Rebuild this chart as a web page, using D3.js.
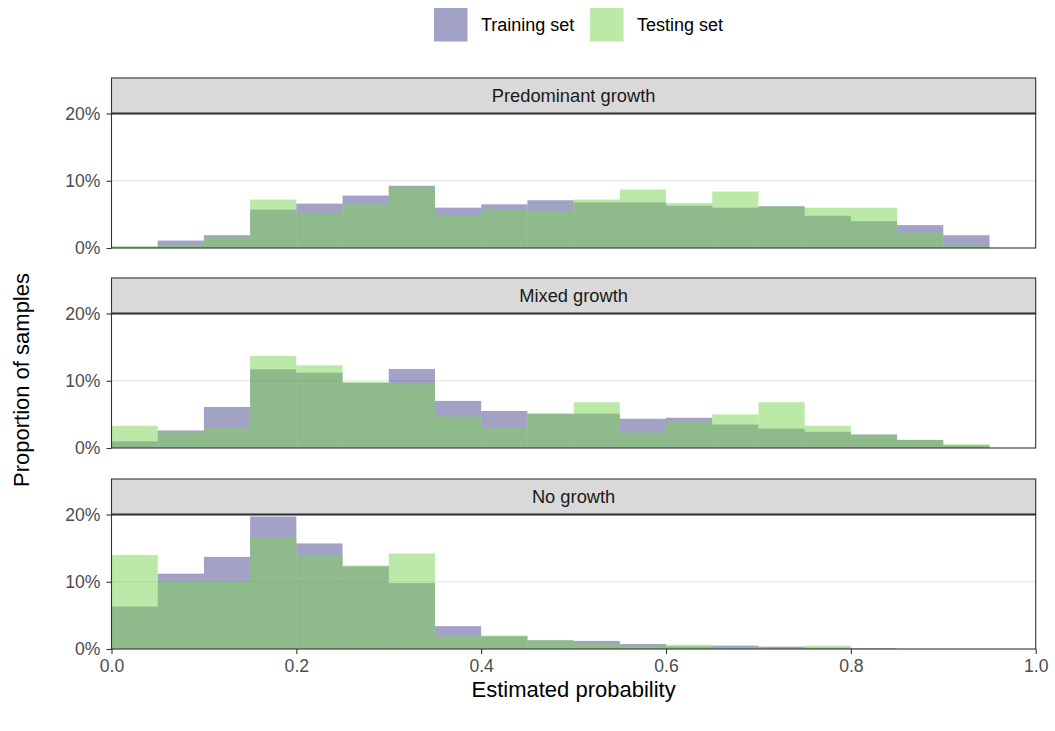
<!DOCTYPE html>
<html>
<head>
<meta charset="utf-8">
<script src="https://cdn.jsdelivr.net/npm/d3@7"></script>
<style>
  body { margin: 0; background: #fff; }
  svg { font-family: "Liberation Sans", Arial, sans-serif; }
</style>
</head>
<body>
<svg id="chart" width="1055" height="731"></svg>
<script>
// bins of width 0.05 from 0 to 1, values are % of samples
const binStarts = d3.range(0, 20).map(i => i * 0.05)
const facets = ["Predominant growth", "Mixed growth", "No growth"]
const seriesNames = ["Training set", "Testing set"]

const trainPred = [0.1, 1.1, 1.9, 5.7, 6.6, 7.8, 9.25, 6.0, 6.5, 7.1, 6.8, 6.8, 6.3, 6.0, 6.2, 4.8, 4.0, 3.4, 1.9, 0]
const testPred  = [0.3, 0.5, 1.6, 7.2, 5.1, 6.5, 9.1, 4.9, 5.7, 5.4, 7.2, 8.7, 6.7, 8.4, 6.2, 6.0, 6.0, 2.3, 0.4, 0]

const trainMixed = [1.0, 2.6, 6.1, 11.7, 11.2, 9.7, 11.75, 7.0, 5.5, 5.1, 5.1, 4.35, 4.5, 3.5, 2.9, 2.4, 2.0, 1.2, 0.4, 0]
const testMixed  = [3.3, 2.3, 2.95, 13.7, 12.3, 9.8, 9.5, 4.7, 2.95, 5.1, 6.8, 2.3, 4.0, 5.0, 6.8, 3.3, 2.0, 1.2, 0.55, 0]

const trainNo = [6.3, 11.2, 13.7, 19.7, 15.7, 12.3, 9.8, 3.4, 1.9, 1.3, 1.2, 0.75, 0.4, 0.5, 0.35, 0.2, 0.1, 0, 0, 0]
const testNo  = [14.0, 10.0, 10.1, 16.5, 13.9, 12.4, 14.2, 1.9, 2.0, 1.3, 0.8, 0.5, 0.65, 0.3, 0.15, 0.5, 0, 0, 0, 0]

const yTicks = [0, 10, 20]
const xTicks = [0, 0.2, 0.4, 0.6, 0.8, 1.0]

const facetData = [
  [trainPred, testPred],
  [trainMixed, testMixed],
  [trainNo, testNo]
]

const colors = ["#45458d", "#7bd351"]
const alpha = 0.5

const svg = d3.select("#chart")

const left = 111.5, right = 1035.7
const panelTops = [113.5, 313.5, 514.5]
const panelH = 134.5
const stripH = 35.5

const x = d3.scaleLinear().domain([0, 1]).range([left, right])

facets.forEach((name, fi) => {
  const top = panelTops[fi]
  const y = d3.scaleLinear().domain([0, 20]).range([top + panelH, top])
  const g = svg.append("g")

  // grid line at 10%
  g.append("line")
    .attr("x1", left).attr("x2", right)
    .attr("y1", y(10)).attr("y2", y(10))
    .attr("stroke", "#ebebeb").attr("stroke-width", 1.4)

  // bars: training first, testing on top
  facetData[fi].forEach((vals, si) => {
    g.append("g")
      .selectAll("rect")
      .data(vals.map((v, i) => ({ x0: binStarts[i], v })))
      .join("rect")
      .attr("x", d => x(d.x0))
      .attr("width", d => x(d.x0 + 0.05) - x(d.x0))
      .attr("y", d => y(d.v))
      .attr("height", d => y(0) - y(d.v))
      .attr("fill", colors[si])
      .attr("fill-opacity", alpha)
  })

  // panel border
  g.append("rect")
    .attr("x", left).attr("y", top)
    .attr("width", right - left).attr("height", panelH)
    .attr("fill", "none").attr("stroke", "#333").attr("stroke-width", 1.1)

  // strip
  g.append("rect")
    .attr("x", left).attr("y", top - stripH)
    .attr("width", right - left).attr("height", stripH)
    .attr("fill", "#d9d9d9").attr("stroke", "#333").attr("stroke-width", 1.1)
  g.append("line")
    .attr("x1", left).attr("x2", right)
    .attr("y1", top).attr("y2", top)
    .attr("stroke", "#333").attr("stroke-width", 2)
  g.append("text")
    .attr("x", (left + right) / 2).attr("y", top - stripH / 2)
    .attr("dy", "0.36em").attr("text-anchor", "middle")
    .attr("font-size", 18.3).attr("fill", "#1a1a1a")
    .text(name)

  // y axis
  const yAxis = d3.axisLeft(y).tickValues(yTicks).tickFormat(d => d + "%").tickSize(5).tickPadding(6)
  const ya = g.append("g").attr("transform", `translate(${left},0)`).call(yAxis)
  ya.select(".domain").remove()
  ya.selectAll(".tick line").attr("stroke", "#333").attr("stroke-width", 1.1)
  ya.selectAll(".tick text").attr("font-size", 17.6).attr("fill", "#4d4d4d")
    .attr("font-family", "Liberation Sans, Arial, sans-serif")

  if (fi === facets.length - 1) {
    const xAxis = d3.axisBottom(x).tickValues(xTicks).tickFormat(d3.format(".1f")).tickSize(5).tickPadding(6)
    const xa = g.append("g").attr("transform", `translate(0,${top + panelH})`).call(xAxis)
    xa.select(".domain").remove()
    xa.selectAll(".tick line").attr("stroke", "#333").attr("stroke-width", 1.1)
    xa.selectAll(".tick text").attr("font-size", 17.6).attr("fill", "#4d4d4d")
      .attr("font-family", "Liberation Sans, Arial, sans-serif")
  }
})

// axis titles
svg.append("text")
  .attr("x", (left + right) / 2).attr("y", 697)
  .attr("text-anchor", "middle").attr("font-size", 22).attr("fill", "#000")
  .text("Estimated probability")
svg.append("text")
  .attr("transform", "translate(28.5,380) rotate(-90)")
  .attr("text-anchor", "middle").attr("font-size", 22).attr("fill", "#000")
  .text("Proportion of samples")

// legend
const legendX = [434, 590]
const legend = svg.append("g")
seriesNames.forEach((s, i) => {
  legend.append("rect")
    .attr("x", legendX[i]).attr("y", 8)
    .attr("width", 33.5).attr("height", 33.5)
    .attr("fill", colors[i]).attr("fill-opacity", alpha)
  legend.append("text")
    .attr("x", legendX[i] + 47).attr("y", 25)
    .attr("dy", "0.36em").attr("font-size", 18).attr("fill", "#000")
    .text(s)
})
</script>
</body>
</html>
